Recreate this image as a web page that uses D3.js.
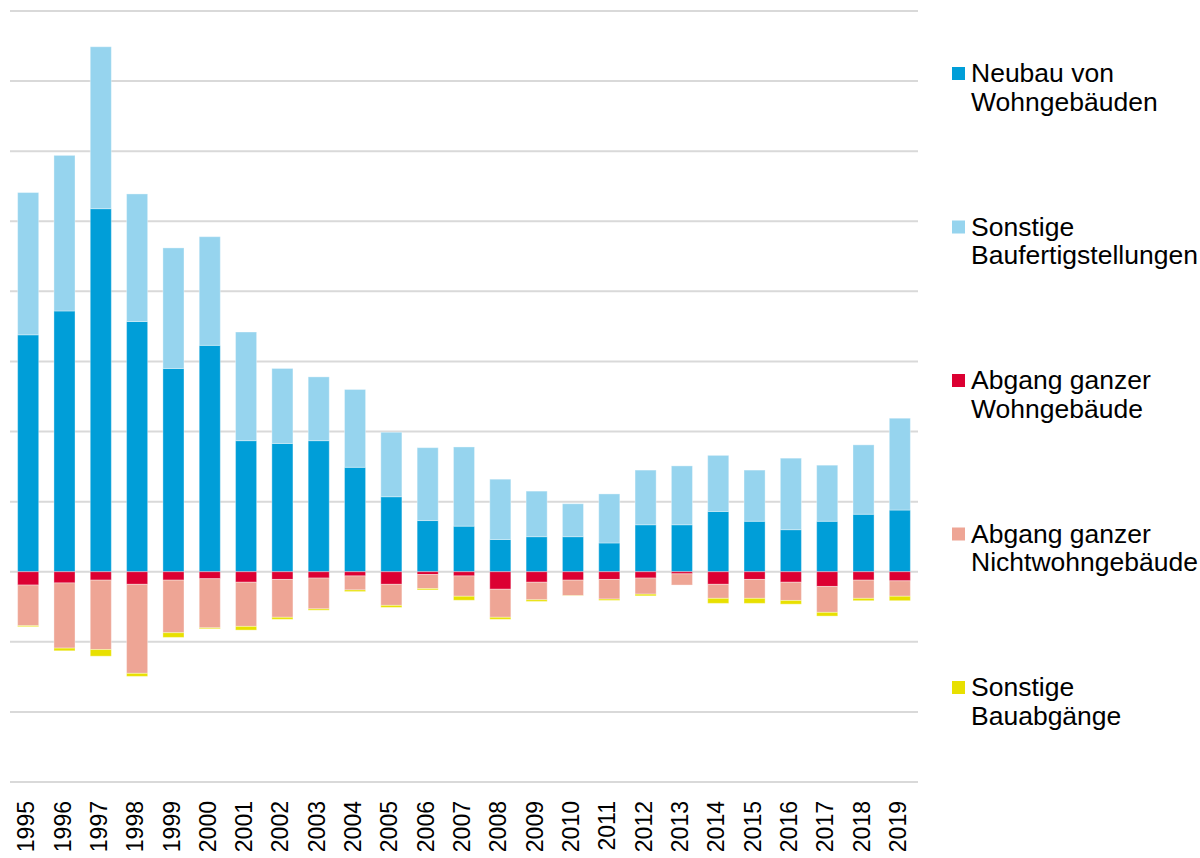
<!DOCTYPE html>
<html>
<head>
<meta charset="utf-8">
<script src="https://cdn.jsdelivr.net/npm/d3@7"></script>
<style>
  body { margin: 0; background: #fff; }
  text { font-family: "Liberation Sans", Arial, sans-serif; fill: #000; }
</style>
</head>
<body>
<div class="chart"></div>
<script>
const years = ["1995","1996","1997","1998","1999","2000","2001","2002","2003","2004","2005","2006","2007","2008","2009","2010","2011","2012","2013","2014","2015","2016","2017","2018","2019"];

// Baufertigstellungen (positive)
const neubau = [338, 372, 518, 357, 290, 323, 187, 183, 187, 149, 107, 73, 65, 46, 50, 50, 41, 67, 67, 86, 72, 60, 72, 82, 88];
const sonstigeFertig = [203, 222, 231, 182, 172, 155, 155, 107, 91, 111, 92, 104, 113, 86, 65, 47, 70, 78, 84, 80, 73, 102, 80, 99, 131];
// Bauabgaenge (negative)
const abgangWohn = [-19, -16, -12, -18, -12, -10, -15, -11, -9, -6, -18, -4, -6, -25, -15, -12, -11, -9, -3, -18, -11, -15, -21, -12, -13];
const abgangNichtWohn = [-58, -93, -99, -127, -75, -70, -63, -54, -44, -20, -30, -20, -29, -40, -25, -22, -28, -23, -16, -20, -27, -26, -37, -26, -22];
const sonstigeAbg = [-1.4, -3.8, -9.5, -4.3, -6.7, -1.4, -5.3, -2.9, -1.9, -2.3, -2.9, -1.9, -5.7, -2.9, -2.4, -0.3, -1.9, -2.4, 0, -7.1, -7.1, -5.3, -5.3, -3.3, -6.3];

const gridTicks = [-300, -200, -100, 0, 100, 200, 300, 400, 500, 600, 700, 800];

const keys = ["neubau", "sonstigeFertig", "abgangWohn", "abgangNichtWohn", "sonstigeAbg"];
const labels = [
    ["Neubau von", "Wohngebäuden"],
    ["Sonstige", "Baufertigstellungen"],
    ["Abgang ganzer", "Wohngebäude"],
    ["Abgang ganzer", "Nichtwohngebäude"],
    ["Sonstige", "Bauabgänge"]
];
const colors = ["#009ed8", "#96d4ee", "#dc0032", "#eea595", "#e8e000"];

const data = years.map((y, i) => ({
    year: y,
    neubau: neubau[i],
    sonstigeFertig: sonstigeFertig[i],
    abgangWohn: abgangWohn[i],
    abgangNichtWohn: abgangNichtWohn[i],
    sonstigeAbg: sonstigeAbg[i]
}));

var width = 1200, height = 858;

const svg = d3.select(".chart").append("svg")
    .attr("width", width)
    .attr("height", height);

const xScale = d3.scaleBand()
    .domain(years)
    .range([10, 918])
    .paddingInner(0.42)
    .paddingOuter(0.21);

const yScale = d3.scaleLinear()
    .domain([-300, 800])
    .range([782, 11]);

// gridlines
svg.append("g")
    .attr("class", "grid")
    .selectAll("line")
    .data(gridTicks)
    .join("line")
    .attr("x1", 10)
    .attr("x2", 918)
    .attr("y1", d => yScale(d))
    .attr("y2", d => yScale(d))
    .attr("stroke", "#d9d9d9")
    .attr("stroke-width", 2);

const stack = d3.stack()
    .keys(keys)
    .offset(d3.stackOffsetDiverging);

const series = stack(data);

svg.append("g")
    .selectAll("g")
    .data(series)
    .join("g")
    .attr("fill", (d, i) => colors[i])
    .selectAll("rect")
    .data(d => d)
    .join("rect")
    .attr("x", d => xScale(d.data.year))
    .attr("width", xScale.bandwidth())
    .attr("y", d => yScale(Math.max(d[0], d[1])))
    .attr("height", d => Math.abs(yScale(d[0]) - yScale(d[1])))
    .attr("stroke", "#fff")
    .attr("stroke-opacity", 0.35)
    .attr("stroke-width", 1);

// year labels, rotated
const xAxis = d3.axisBottom(xScale).tickSize(0).tickPadding(0);

svg.append("g")
    .attr("class", "axis x-axis")
    .attr("transform", "translate(0, 801)")
    .call(xAxis)
    .call(g => g.select(".domain").remove())
    .selectAll("text")
    .attr("font-size", 23)
    .attr("font-family", "Liberation Sans, Arial, sans-serif")
    .attr("fill", "#000")
    .attr("text-anchor", "end")
    .attr("transform", "translate(-2, 0) rotate(-90)")
    .attr("x", 0)
    .attr("y", 0)
    .attr("dy", "0.35em");

// legend
const legend = svg.append("g")
    .attr("class", "legend")
    .selectAll("g")
    .data(labels)
    .join("g")
    .attr("transform", (d, i) => "translate(952," + (82 + i * 153.5) + ")");

legend.append("rect")
    .attr("x", 0)
    .attr("y", -15)
    .attr("width", 13)
    .attr("height", 13)
    .attr("fill", (d, i) => colors[i]);

legend.append("text")
    .attr("x", 19)
    .attr("y", 0)
    .attr("font-size", 26.5)
    .selectAll("tspan")
    .data(d => d)
    .join("tspan")
    .attr("x", 19)
    .attr("dy", (d, i) => i === 0 ? 0 : 28.5)
    .text(d => d);
</script>
</body>
</html>
